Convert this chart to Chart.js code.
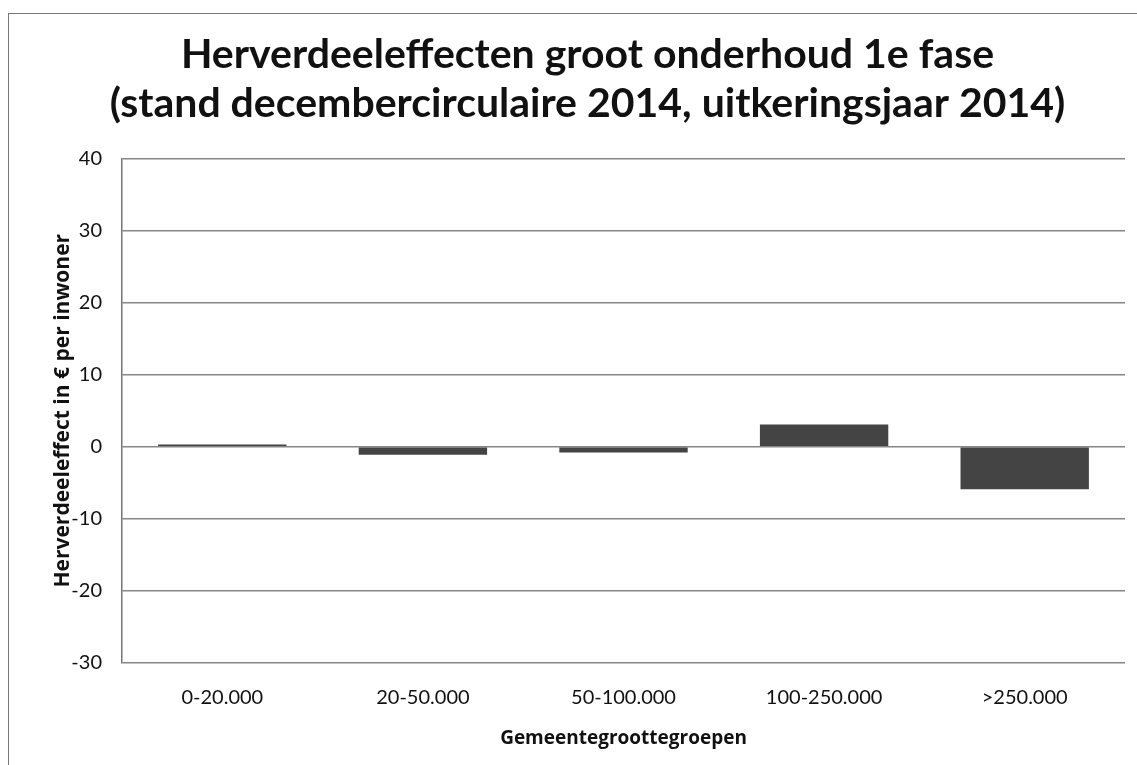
<!DOCTYPE html>
<html>
<head>
<meta charset="utf-8">
<script src="https://cdn.jsdelivr.net/npm/chart.js@4"></script>
<style>
  body { margin: 0; background: #fff; overflow: hidden; }
  #wrap { position: relative; width: 1137px; height: 765px; }
  #frame { position: absolute; left: 8px; top: 13px; width: 1300px; height: 900px; border: 1.5px solid #777; }
  canvas { position: absolute; left: 0; top: 0; }
</style>
</head>
<body>
<div id="wrap">
  <div id="frame"></div>
  <canvas id="cv1" width="1137" height="765"></canvas>
</div>
<script>
// categories en waarden
const groepen = ['0-20.000', '20-50.000', '50-100.000', '100-250.000', '>250.000'];
const effect = [0.3, -1.1, -0.8, 3.1, -5.9];
const titel = ['Herverdeeleffecten groot onderhoud 1e fase', '(stand decembercirculaire 2014, uitkeringsjaar 2014)'];

const ctx = document.getElementById('cv1').getContext('2d');

new Chart(ctx, {
  type: 'bar',
  data: {
    labels: groepen,
    datasets: [{
      data: effect,
      backgroundColor: '#444444',
      barPercentage: 0.64,
      categoryPercentage: 1.0
    }]
  },
  options: {
    responsive: false,
    animation: false,
    layout: { padding: { left: 50, right: 12, top: 30, bottom: 15 } },
    plugins: {
      legend: { display: false },
      tooltip: { enabled: false },
      title: {
        display: true,
        text: titel,
        color: '#111',
        font: { family: 'Lato', size: 41, weight: 'bold', lineHeight: 1.2 },
        padding: { top: 0, bottom: 30 }
      }
    },
    scales: {
      x: {
        afterFit: (s) => { s.height = 87; },
        grid: { display: false, drawTicks: false },
        border: { display: false },
        ticks: { color: '#111', font: { family: 'Lato', size: 20, lineHeight: 1.2 }, padding: 23 },
        title: {
          display: true,
          text: 'Gemeentegroottegroepen',
          color: '#111',
          font: { family: 'Open Sans', size: 19, weight: 'bold', lineHeight: 1.2 },
          padding: { top: 8, bottom: 0 }
        }
      },
      y: {
        afterFit: (s) => { s.width = 72; },
        min: -30,
        max: 40,
        ticks: { stepSize: 10, color: '#111', font: { family: 'Lato', size: 20 }, padding: 20 },
        grid: { color: '#858585', lineWidth: 1.5, drawTicks: false },
        border: { display: true, color: '#777', width: 1.5 },
        title: {
          display: true,
          text: 'Herverdeeleffect in € per inwoner',
          color: '#111',
          font: { family: 'Open Sans', size: 21, weight: 'bold', lineHeight: 1.2 },
          padding: { top: 0, bottom: 2 }
        }
      }
    }
  }
});
</script>
</body>
</html>
